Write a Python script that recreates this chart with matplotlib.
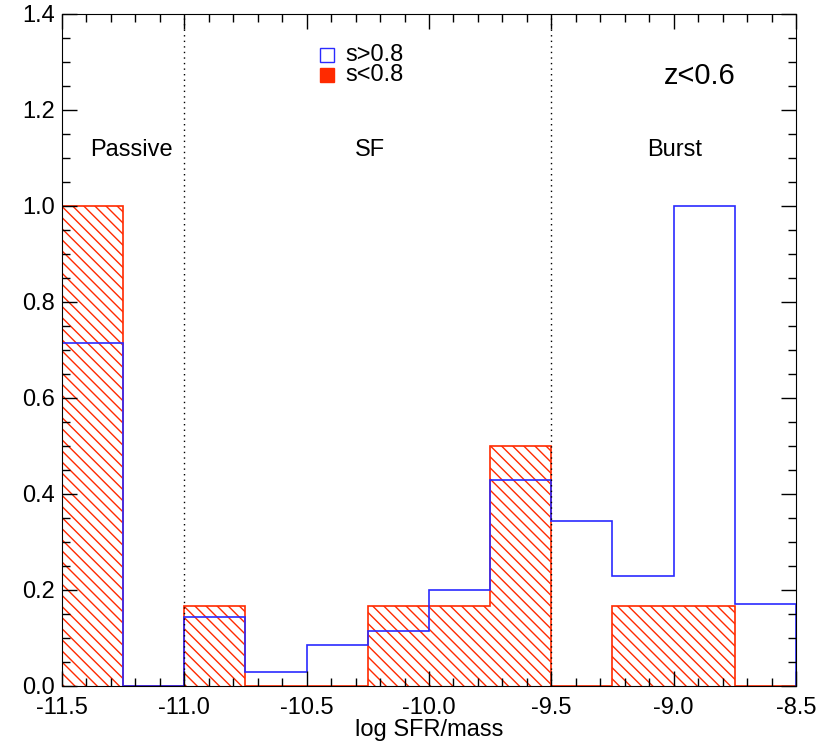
import numpy as np
import matplotlib.pyplot as plt
from matplotlib.ticker import MultipleLocator

plt.rcParams['font.family'] = ['Liberation Sans', 'DejaVu Sans']

# bin edges and normalised counts
edges = np.arange(-11.5, -8.5 + 0.001, 0.25)
s_high = [0.714, 0.0, 0.143, 0.029, 0.086, 0.114, 0.2, 0.429, 0.343, 0.229, 1.0, 0.171]
s_low = [1.0, 0.0, 0.167, 0.0, 0.0, 0.167, 0.167, 0.5, 0.0, 0.167, 0.167, 0.0]
regions = ['Passive', 'SF', 'Burst']
region_x = [-11.216, -10.241, -8.995]
borders = [-11.0, -9.5]
legend_labels = ['s>0.8', 's<0.8']

blue = '#2a2aff'
red = '#ff2a00'

fig = plt.figure(figsize=(8.32, 7.52), dpi=100)
ax = fig.add_axes([0.0745, 0.0878, 0.8822, 0.8936])

# hatched fill without edges, then a single outline so adjacent bins merge
ax.bar(edges[:-1], s_low, width=0.25, align='edge', facecolor='none',
       edgecolor=red, hatch='\\\\\\', linewidth=0)
ax.stairs(s_low, edges, baseline=0, color=red, linewidth=1.2)
ax.stairs(s_high, edges, baseline=0, color=blue, linewidth=1.2)

for b in borders:
    ax.axvline(b, color='black', linestyle=(0, (1, 3)), linewidth=1.0)

for name, xx in zip(regions, region_x):
    ax.text(xx, 1.117, name, ha='center', va='center', fontsize=17)
ax.text(-8.893, 1.271, 'z<0.6', ha='center', va='center', fontsize=21)

# legend drawn by hand, IDL style
ax.plot(0.361, 0.939, marker='s', markersize=9.5, markerfacecolor='white',
        markeredgecolor=blue, transform=ax.transAxes, clip_on=False)
ax.plot(0.361, 0.909, marker='s', markersize=9.5, markerfacecolor=red,
        markeredgecolor=red, transform=ax.transAxes, clip_on=False)
ax.text(0.3856, 0.939, legend_labels[0], transform=ax.transAxes, fontsize=17, va='center')
ax.text(0.3856, 0.909, legend_labels[1], transform=ax.transAxes, fontsize=17, va='center')

ax.set_xlim(-11.5, -8.5)
ax.set_ylim(0, 1.4)
ax.xaxis.set_major_locator(MultipleLocator(0.5))
ax.xaxis.set_minor_locator(MultipleLocator(0.1))
ax.yaxis.set_major_locator(MultipleLocator(0.2))
ax.yaxis.set_minor_locator(MultipleLocator(0.05))
ax.xaxis.set_major_formatter(plt.FormatStrFormatter('%.1f'))
ax.yaxis.set_major_formatter(plt.FormatStrFormatter('%.1f'))
ax.tick_params(which='both', direction='in', top=True, right=True, labelsize=17, width=1.0)
ax.tick_params(which='major', length=10.5)
ax.tick_params(which='minor', length=5.5)
ax.tick_params(axis='x', which='major', pad=8)
ax.tick_params(axis='y', which='major', pad=5)
ax.set_xlabel('log SFR/mass', fontsize=17, labelpad=0)

fig.savefig('out.png', dpi=100)
